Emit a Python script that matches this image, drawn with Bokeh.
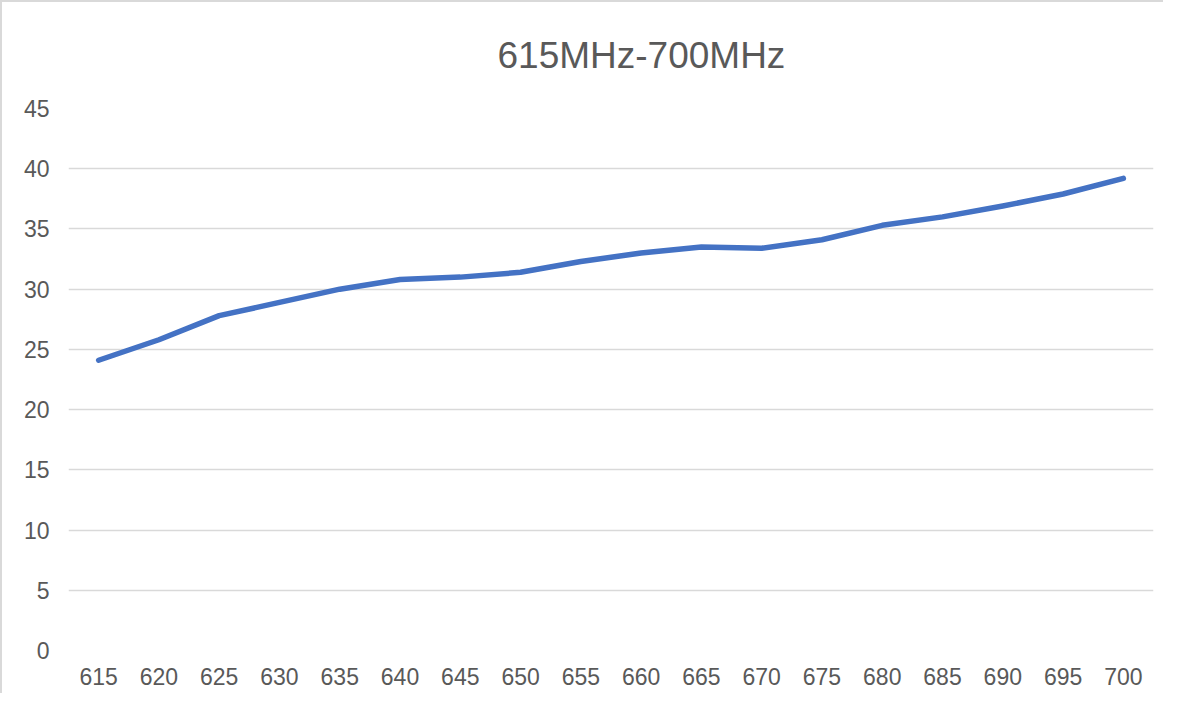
from bokeh.plotting import figure
from bokeh.models import ColumnDataSource, FixedTicker, Range1d
from bokeh.embed import file_html
from bokeh.resources import INLINE

title_text = "615MHz-700MHz"
frequencies = ["615", "620", "625", "630", "635", "640", "645", "650", "655",
               "660", "665", "670", "675", "680", "685", "690", "695", "700"]
values = [24.1, 25.8, 27.8, 28.9, 30.0, 30.8, 31.0, 31.4, 32.3,
          33.0, 33.5, 33.4, 34.1, 35.3, 36.0, 36.9, 37.9, 39.2]
y_ticks = [0, 5, 10, 15, 20, 25, 30, 35, 40, 45]

FONT = "Liberation Sans"
TEXT = "#595959"
GRID = "#d9d9d9"

source = ColumnDataSource(data=dict(freq=frequencies, val=values))

p = figure(
    width=1163, height=693,
    x_range=frequencies, y_range=Range1d(0, 45),
    output_backend="svg", toolbar_location=None,
    min_border_left=66, min_border_right=12,
    min_border_top=106, min_border_bottom=45,
    title=title_text,
)
p.styles = {"border-left": "2px solid #d9d9d9", "border-top": "2px solid #d9d9d9"}

p.line("freq", "val", source=source, line_color="#4472C4", line_width=5.5,
       line_cap="round", line_join="round")

p.title.align = "left"
p.title.offset = 429
p.title.text_font = FONT
p.title.text_font_size = "37px"
p.title.text_font_style = "normal"
p.title.text_color = TEXT
p.title.vertical_align = "top"
p.title.standoff = 62

p.outline_line_color = None
p.background_fill_color = "white"
p.border_fill_color = "white"

p.xgrid.grid_line_color = None
p.ygrid.grid_line_color = GRID
p.ygrid.grid_line_width = 1.3

p.yaxis.ticker = FixedTicker(ticks=y_ticks)
p.yaxis.axis_line_color = None
p.yaxis.major_tick_line_color = None
p.yaxis.minor_tick_line_color = None
p.yaxis.major_tick_out = 0
p.yaxis.major_tick_in = 0
p.yaxis.major_label_standoff = 19
p.yaxis.major_label_text_font = FONT
p.yaxis.major_label_text_font_size = "23px"
p.yaxis.major_label_text_color = TEXT

p.xaxis.axis_line_color = None
p.xaxis.major_tick_line_color = None
p.xaxis.major_tick_out = 0
p.xaxis.major_tick_in = 0
p.xaxis.major_label_standoff = 17
p.xaxis.major_label_text_font = FONT
p.xaxis.major_label_text_font_size = "23px"
p.xaxis.major_label_text_color = TEXT

open("out.html", "w").write(file_html(p, INLINE))
